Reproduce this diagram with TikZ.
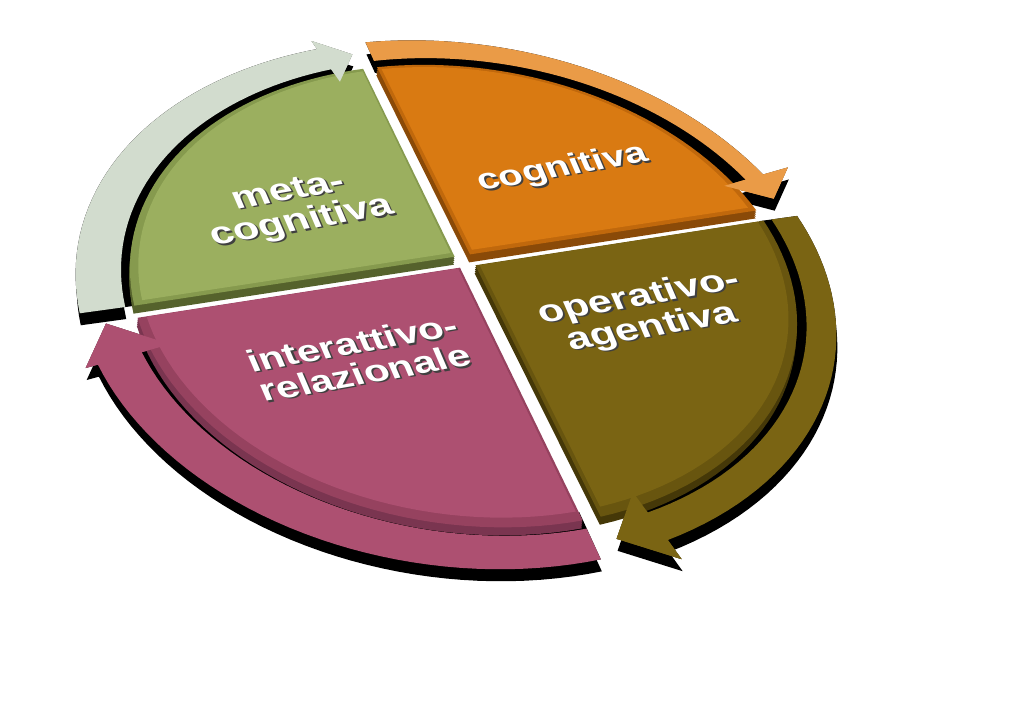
\documentclass[tikz,border=0pt]{standalone}
\usepackage{fontspec}
\setmainfont{Liberation Sans}
\newfontfamily\LabFont{Liberation Sans}
\definecolor{gM}{HTML}{9BAF5F}
\definecolor{gB}{HTML}{869A4E}
\definecolor{gS}{HTML}{55622C}
\definecolor{oM}{HTML}{D97A12}
\definecolor{oB}{HTML}{C0680C}
\definecolor{oS}{HTML}{8A4A08}
\definecolor{lM}{HTML}{7A6413}
\definecolor{lB}{HTML}{68550F}
\definecolor{lS}{HTML}{453808}
\definecolor{pM}{HTML}{AD5071}
\definecolor{pB}{HTML}{96425F}
\definecolor{pS}{HTML}{7A3550}
\definecolor{aG}{HTML}{D2DCCE}
\definecolor{aO}{HTML}{EA9B47}
\definecolor{txtsh}{HTML}{404040}
\newcommand\Pp[2]{({px(#1,#2)},{py(#1,#2)})}
\newcommand\LPp[2]{-- ({px(#1,#2)},{py(#1,#2)})}
\newcommand\FArc[3]{-- plot[domain=0:1,samples=40,variable=\s] ({px(#1((#2)+((#3)-(#2))*\s),(#2)+((#3)-(#2))*\s)},{py(#1((#2)+((#3)-(#2))*\s),(#2)+((#3)-(#2))*\s)})}
% face: #1 radius offset, #2 gap, #3 base angle, #4 #5 corner signs
\newcommand\Face[5]{({hx(#4*#2,#5*#2)},{hy(#4*#2,#5*#2)}) -- plot[domain=0:1,samples=40,variable=\s] ({px(rp((#3+asin(#2))+(90-2*asin(#2))*\s)-#1,(#3+asin(#2))+(90-2*asin(#2))*\s)},{py(rp((#3+asin(#2))+(90-2*asin(#2))*\s)-#1,(#3+asin(#2))+(90-2*asin(#2))*\s)}) -- cycle}
% arrow: #1 tail, #2 head base, #3 tip, #4 inner radius fn, #5 inner wing, #6 outer wing, #7 fn for tip radius
\newcommand\ArrowPath[7]{\Pp{rout(#1)}{#1} \FArc{rout}{#1}{#2} \LPp{#6}{#2} \LPp{(#7(#3)+rout(#3))/2}{#3} \LPp{#5}{#2} \FArc{#4}{#2}{#1} -- cycle}
\newcommand\HeadPath[5]{\Pp{#4}{#1} \LPp{(#5(#2)+rout(#2))/2}{#2} \LPp{#3}{#1} -- cycle}
\newcommand\LabBox[2]{{\LabFont\bfseries\fontsize{#1}{39}\selectfont\begin{tabular}{@{}c@{}}#2\end{tabular}}}
\newcommand\ShText[1]{\makebox[0pt][l]{\hspace{1.5pt}\raisebox{-2pt}{\textcolor{txtsh}{#1}}}#1}
\begin{document}
\begin{tikzpicture}[x=1pt,y=-1pt,
  declare function={
    hd(\ua,\va)=1+0.0419*\ua+0.1416*\va;
    hx(\ua,\va)=465+(307.4*\ua-107.3*\va)/hd(\ua,\va);
    hy(\ua,\va)=261+(-47.4*\ua-218.0*\va)/hd(\ua,\va);
    px(\rad,\ang)=hx(\rad*cos(\ang),\rad*sin(\ang));
    py(\rad,\ang)=hy(\rad*cos(\ang),\rad*sin(\ang));
    rp(\ang)=1+0.0125*(1-cos(\ang));
    rinA(\ang)=1.028+0.012*(1-cos(\ang))+0*\ang;
    rinO(\ang)=1.05+0*\ang;
    rout(\ang)=1.152+0.0364*cos(\ang-160);
    rblk(\ang)=0.985+0*\ang;
  },
  lbl/.style={text=white,inner sep=0pt,
    cm={0.985,0.174,-0.31,0.72,(0,0)},transform shape}]
\useasboundingbox (0,0) rectangle (1024,727);
\fill[white] (0,0) rectangle (1024,727);

% black shadows / gaps under the ring arrows
\foreach \ta/\hb/\tp/\fn/\wo in {178.6/97.5/92/rinA/1.22, 88.6/9.5/3.5/rinO/1.22, -1.4/-81.5/-88/rinA/1.2, -91.4/-171/-178.5/rinA/1.22}{
  \fill[black,shift={(1,12)}] \ArrowPath{\ta}{\hb}{\tp}{\fn}{0.965}{\wo}{\fn};
  \fill[black] \ArrowPath{\ta}{\hb}{\tp}{rblk}{0.965}{\wo}{\fn};
}

% ring arrows (shafts)
\fill[aG] \ArrowPath{178.6}{97.5}{92}{rinA}{0.965}{1.22}{rinA};
\fill[aO] \ArrowPath{88.6}{9.5}{3.5}{rinO}{0.965}{1.22}{rinO};
\fill[lM] \ArrowPath{-1.4}{-81.5}{-88}{rinA}{0.965}{1.2}{rinA};
\fill[pM] \ArrowPath{-91.4}{-171}{-178.5}{rinA}{0.965}{1.22}{rinA};

% pie side faces
\foreach \d in {2,4,6,8}{
  \fill[gS,shift={(-0.1*\d,\d)}] \Face{0}{0.025}{90}{-1}{1};
  \fill[oS,shift={(-0.1*\d,\d)}] \Face{0}{0.025}{0}{1}{1};
  \fill[lS,shift={(-0.1*\d,\d)}] \Face{0}{0.025}{270}{1}{-1};
  \fill[pS,shift={(-0.1*\d,\d)}] \Face{0}{0.025}{180}{-1}{-1};
}
% pie top faces with bevel
\fill[gB] \Face{0}{0.025}{90}{-1}{1};
\fill[oB] \Face{0}{0.025}{0}{1}{1};
\fill[lB] \Face{0}{0.025}{270}{1}{-1};
\fill[pB] \Face{0}{0.025}{180}{-1}{-1};
\begin{scope}[shift={(0,-2)}]
\fill[gM] \Face{0.025}{0.035}{90}{-1}{1};
\fill[oM] \Face{0.025}{0.035}{0}{1}{1};
\fill[lM] \Face{0.025}{0.035}{270}{1}{-1};
\fill[pM] \Face{0.025}{0.035}{180}{-1}{-1};
\end{scope}

% arrow heads over the pie
\fill[aG] \HeadPath{97.5}{92}{0.965}{1.22}{rinA};
\fill[aO] \HeadPath{9.5}{3.5}{0.965}{1.22}{rinO};
\fill[lM] \HeadPath{-81.5}{-88}{0.965}{1.2}{rinA};
\fill[pM] \HeadPath{-171}{-178.5}{0.965}{1.22}{rinA};

% labels
\begin{scope}[shift={(296,209)}]
  \node[lbl] (mc) at (0,0) {\LabBox{42}{\ShText{meta-}\\\ShText{cognitiva}}};
\end{scope}
\begin{scope}[shift={(563,170)}]
  \node[lbl] (cg) at (0,0) {\LabBox{39}{\ShText{cognitiva}}};
\end{scope}
\begin{scope}[shift={(646,314)}]
  \node[lbl] (oa) at (0,0) {\LabBox{42}{\ShText{operativo-}\\\ShText{agentiva}}};
\end{scope}
\begin{scope}[shift={(360,362)}]
  \node[lbl] (ir) at (0,0) {\LabBox{41}{\ShText{interattivo-}\\\ShText{relazionale}}};
\end{scope}
\end{tikzpicture}
\end{document}
